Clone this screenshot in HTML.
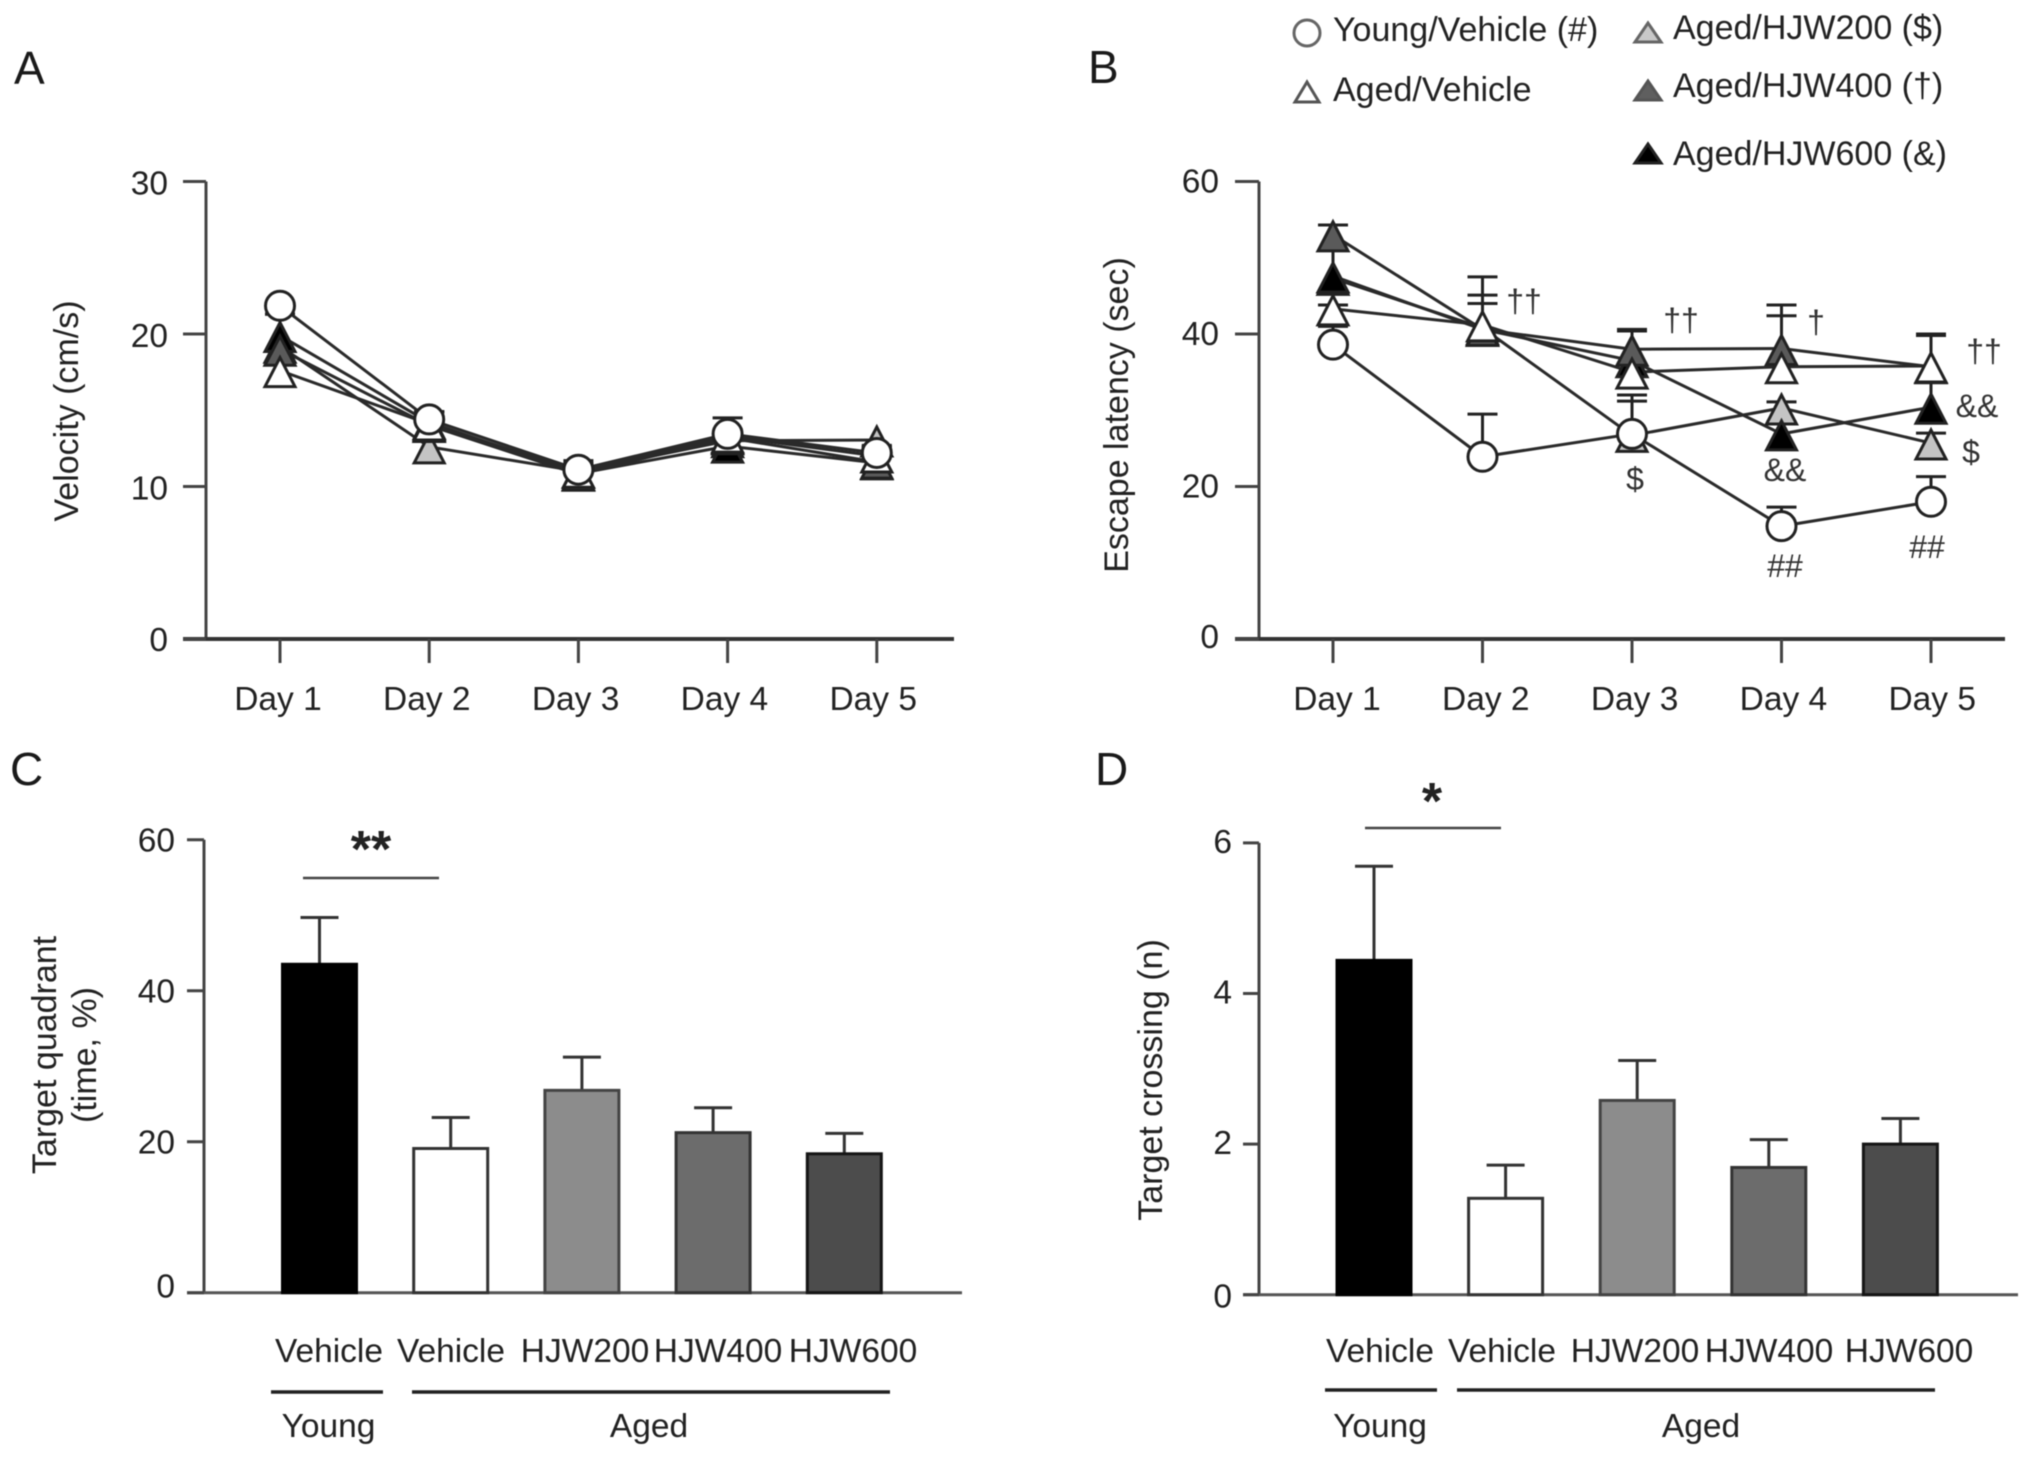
<!DOCTYPE html>
<html lang="en">
<head>
<meta charset="utf-8">
<title>Velocity, escape latency, target quadrant and target crossing</title>
<style>
html,body{margin:0;padding:0;background:#fff;}
svg{display:block;filter:blur(0.55px);}
text{font-family:"Liberation Sans",sans-serif;font-size:33.5px;fill:#222;}
.panel{font-size:46px;fill:#1a1a1a;}
.note{font-size:32px;fill:#333;text-anchor:middle;}
.mid{text-anchor:middle;}
.title{font-size:34px;}
</style>
</head>
<body>
<svg id="figure" xmlns="http://www.w3.org/2000/svg" width="2032" height="1457" viewBox="0 0 2032 1457">
  <rect x="0" y="0" width="2032" height="1457" fill="#fff"/>

  <text class="panel" x="14" y="84">A</text>
  <text class="panel" x="1088" y="83">B</text>
  <text class="panel" x="10" y="785">C</text>
  <text class="panel" x="1095" y="785">D</text>

  <text class="mid title" transform="translate(78 411) rotate(-90)">Velocity (cm/s)</text>
  <text class="mid title" transform="translate(1128 415) rotate(-90)">Escape latency (sec)</text>
  <text class="mid title" transform="translate(56 1055) rotate(-90)">Target quadrant</text>
  <text class="mid title" transform="translate(96 1055) rotate(-90)">(time, %)</text>
  <text class="mid title" transform="translate(1162 1080) rotate(-90)">Target crossing (n)</text>

  <g stroke-linejoin="miter">
    <circle cx="1307" cy="33" r="13" fill="#fff" stroke="#666" stroke-width="3"/>
    <text x="1333" y="41" style="font-size:34px">Young/Vehicle (#)</text>
    <polygon points="1307,82 1295,102 1319,102" fill="#fff" stroke="#555" stroke-width="3"/>
    <text x="1333" y="101" style="font-size:34px">Aged/Vehicle</text>
    <polygon points="1648,23 1635,42 1661,42" fill="#c8c8c8" stroke="#666" stroke-width="3"/>
    <text x="1673" y="39" style="font-size:34px">Aged/HJW200 ($)</text>
    <polygon points="1648,81 1635,100 1661,100" fill="#5f5f5f" stroke="#555" stroke-width="3"/>
    <text x="1673" y="97" style="font-size:34px">Aged/HJW400 (†)</text>
    <polygon points="1648,144 1635,163 1661,163" fill="#000" stroke="#222" stroke-width="3"/>
    <text x="1673" y="165" style="font-size:34px">Aged/HJW600 (&amp;)</text>
  </g>

  <g>
    <text class="note" x="1524" y="312">††</text>
    <text class="note" x="1681" y="331">††</text>
    <text class="note" x="1816" y="333">†</text>
    <text class="note" x="1984" y="362">††</text>
    <text class="note" x="1977" y="417">&amp;&amp;</text>
    <text class="note" x="1971" y="463">$</text>
    <text class="note" x="1785" y="481">&amp;&amp;</text>
    <text class="note" x="1635" y="490">$</text>
    <text class="note" x="1785" y="577">##</text>
    <text class="note" x="1927" y="558">##</text>
  </g>

  <g>
    <text class="mid" x="329" y="1362">Vehicle</text>
    <text class="mid" x="451" y="1362">Vehicle</text>
    <text class="mid" x="585" y="1362">HJW200</text>
    <text class="mid" x="718" y="1362">HJW400</text>
    <text class="mid" x="853" y="1362">HJW600</text>
    <line x1="271" x2="383" y1="1392" y2="1392" stroke="#222" stroke-width="3.5"/>
    <line x1="412" x2="890" y1="1392" y2="1392" stroke="#222" stroke-width="3.5"/>
    <text class="mid" x="328.5" y="1437">Young</text>
    <text class="mid" x="649" y="1437">Aged</text>
    <line x1="303" x2="439" y1="878" y2="878" stroke="#444" stroke-width="2.5"/>
    <text class="mid" x="371" y="867" style="font-size:52px;font-weight:bold">**</text>
  </g>

  <g>
    <text class="mid" x="1380" y="1362">Vehicle</text>
    <text class="mid" x="1502" y="1362">Vehicle</text>
    <text class="mid" x="1635" y="1362">HJW200</text>
    <text class="mid" x="1769" y="1362">HJW400</text>
    <text class="mid" x="1909" y="1362">HJW600</text>
    <line x1="1325" x2="1437" y1="1390" y2="1390" stroke="#222" stroke-width="3.5"/>
    <line x1="1457" x2="1935" y1="1390" y2="1390" stroke="#222" stroke-width="3.5"/>
    <text class="mid" x="1380" y="1437">Young</text>
    <text class="mid" x="1701" y="1437">Aged</text>
    <line x1="1365" x2="1501" y1="828" y2="828" stroke="#444" stroke-width="2.5"/>
    <text class="mid" x="1432" y="819" style="font-size:52px;font-weight:bold">*</text>
  </g>
</svg>

<script>
const dayLabels = ['Day 1', 'Day 2', 'Day 3', 'Day 4', 'Day 5'];

const velocityTicks = [0, 10, 20, 30];
const velocityYoung = [21.85, 14.4, 11.1, 13.45, 12.2];
const velocityAged = [17.6, 14.1, 11.0, 13.3, 12.0];
const velocityHjw200 = [19.2, 12.6, 11.0, 13.0, 13.05];
const velocityHjw400 = [19.0, 14.0, 10.8, 13.2, 11.6];
const velocityHjw600 = [19.9, 14.2, 10.85, 12.65, 11.55];
const velocityYoungErr = [22.0, 14.9, 11.7, 14.5, 12.6];
const velocityAgedErr = [21.3, 14.9, 11.5, 13.7, 12.6];
const velocityHjw200Err = [21.3, 13.2, 11.5, 13.7, 12.7];
const velocityHjw400Err = [21.3, 14.9, 11.3, 13.7, 12.1];
const velocityHjw600Err = [21.3, 14.9, 11.4, 13.3, 12.1];

const latencyTicks = [0, 20, 40, 60];
const latencyYoung = [38.6, 23.9, 26.9, 14.8, 18.0];
const latencyAged = [43.3, 41.2, 35.0, 35.7, 35.8];
const latencyHjw200 = [47.3, 40.8, 26.7, 30.3, 25.7];
const latencyHjw400 = [53.0, 40.6, 38.0, 38.1, 35.7];
const latencyHjw600 = [47.6, 40.6, 36.5, 26.9, 30.4];
const latencyYoungErr = [41.0, 29.5, 32.0, 17.3, 21.3];
const latencyAgedErr = [43.8, 47.5, 40.4, 43.8, 40.0];
const latencyHjw200Err = [51.0, 45.1, 31.2, 31.1, 27.0];
const latencyHjw400Err = [54.3, 44.0, 40.6, 42.4, 39.8];
const latencyHjw600Err = [51.0, 44.0, 40.4, 28.5, 33.8];

const quadrantTicks = [0, 20, 40, 60];
const quadrantValues = [43.5, 19.1, 26.8, 21.2, 18.4];
const quadrantErrors = [49.7, 23.2, 31.2, 24.5, 21.1];

const crossingTicks = [0, 2, 4, 6];
const crossingValues = [4.44, 1.28, 2.58, 1.69, 2.0];
const crossingErrors = [5.69, 1.72, 3.11, 2.06, 2.34];

const svgNS = 'http://www.w3.org/2000/svg';
const root = document.getElementById('figure');

function make(tag, attrs, parent, text) {
  const el = document.createElementNS(svgNS, tag);
  for (const k in attrs) el.setAttribute(k, attrs[k]);
  if (text !== undefined) el.textContent = text;
  parent.appendChild(el);
  return el;
}

const yVelocity = v => 639 - v * 15.25;
const xVelocity = i => 280 + i * 149.2;
const yLatency = v => 639 - v * 7.625;
const xLatency = i => 1333 + i * 149.5;
const yQuadrant = v => 1292.7 - v * 7.55;
const xQuadrant = i => 319.5 + i * 131.2;
const yCrossing = v => 1294.7 - v * 75.3;
const xCrossing = i => 1374 + i * 131.6;

const seriesStyles = [
  {fill: '#c4c4c4'},
  {fill: '#000'},
  {fill: '#5a5a5a'},
  {fill: '#fff'},
  {fill: '#fff', circle: true}
];

function drawAxes(g, cfg) {
  const yLine = make('line', {x1: cfg.axisX, x2: cfg.axisX, y1: cfg.y(cfg.ticks[cfg.ticks.length - 1]), y2: cfg.y(0), stroke: '#444', 'stroke-width': 3}, g);
  
  
  const xLine = make('line', {x1: cfg.tickX, x2: cfg.endX, y1: cfg.y(0), y2: cfg.y(0), stroke: cfg.xColor, 'stroke-width': cfg.xWidth}, g);
  
  
  cfg.ticks.forEach(t => {
    const tick = make('line', {x1: cfg.tickX, x2: cfg.axisX, y1: cfg.y(t), y2: cfg.y(t), stroke: '#444', 'stroke-width': 3}, g);
    
    
    const label = make('text', {x: cfg.labelX, y: cfg.y(t) + (t === 0 ? cfg.zeroDy : cfg.labelDy), 'text-anchor': 'end'}, g, String(t));
    
    
  });
}

function drawLinePanel(name, cfg, series, errors) {
  const g = make('g', {}, root);
  
  
  drawAxes(g, cfg);
  dayLabels.forEach((d, i) => {
    const tick = make('line', {x1: cfg.x(i), x2: cfg.x(i), y1: cfg.y(0), y2: cfg.y(0) + 24, stroke: '#444', 'stroke-width': 3}, g);
    
    
    const label = make('text', {x: cfg.dayLabelX + i * 148.8, y: 710, 'text-anchor': 'middle'}, g, d);
    
    
  });
  series.forEach((vals, s) => {
    vals.forEach((v, i) => {
      const top = cfg.y(errors[s][i]);
      const stem = make('line', {x1: cfg.x(i), x2: cfg.x(i), y1: top, y2: cfg.y(v), stroke: '#222', 'stroke-width': 3}, g);
      
      
      const cap = make('line', {x1: cfg.x(i) - 15, x2: cfg.x(i) + 15, y1: top, y2: top, stroke: '#222', 'stroke-width': 3}, g);
      
      
    });
  });
  series.forEach((vals, s) => {
    const pts = vals.map((v, i) => cfg.x(i) + ',' + cfg.y(v)).join(' ');
    const line = make('polyline', {points: pts, fill: 'none', stroke: '#2a2a2a', 'stroke-width': 3}, g);
    
    
  });
  series.forEach((vals, s) => {
    vals.forEach((v, i) => {
      const cx = cfg.x(i), cy = cfg.y(v);
      if (seriesStyles[s].circle) {
        const m = make('circle', {cx: cx, cy: cy, r: 14.5, fill: seriesStyles[s].fill, stroke: '#222', 'stroke-width': 3}, g);
        
        
      } else {
        const p = (cx) + ',' + (cy - 13) + ' ' + (cx - 15) + ',' + (cy + 16) + ' ' + (cx + 15) + ',' + (cy + 16);
        const m = make('polygon', {points: p, fill: seriesStyles[s].fill, stroke: '#222', 'stroke-width': 3}, g);
        
        
      }
    });
  });
}

const barFills = ['#000', '#fff', '#8c8c8c', '#6c6c6c', '#4c4c4c'];
const barStrokes = ['#000', '#333', '#444', '#333', '#151515'];

function drawBarPanel(name, cfg, values, errs) {
  const g = make('g', {}, root);
  
  
  drawAxes(g, cfg);
  values.forEach((v, i) => {
    const cx = cfg.x(i);
    const top = cfg.y(errs[i]);
    const stem = make('line', {x1: cx, x2: cx, y1: top, y2: cfg.y(v), stroke: '#333', 'stroke-width': 3}, g);
    
    
    const cap = make('line', {x1: cx - 19, x2: cx + 19, y1: top, y2: top, stroke: '#333', 'stroke-width': 3}, g);
    
    
    const bar = make('rect', {x: cx - 37, y: cfg.y(v), width: 74, height: cfg.y(0) - cfg.y(v), fill: barFills[i], stroke: barStrokes[i], 'stroke-width': 3}, g);
    
    
  });
}

drawLinePanel('velocity-chart', {
  ticks: velocityTicks, y: yVelocity, x: xVelocity, axisX: 206, tickX: 183, endX: 954,
  labelX: 168, labelDy: 13, zeroDy: 12, dayLabelX: 278, xColor: '#333', xWidth: 4
}, [velocityHjw200, velocityHjw600, velocityHjw400, velocityAged, velocityYoung],
   [velocityHjw200Err, velocityHjw600Err, velocityHjw400Err, velocityAgedErr, velocityYoungErr]);

drawLinePanel('escape-latency-chart', {
  ticks: latencyTicks, y: yLatency, x: xLatency, axisX: 1259, tickX: 1235, endX: 2005,
  labelX: 1219, labelDy: 11, zeroDy: 9, dayLabelX: 1337, xColor: '#333', xWidth: 4
}, [latencyHjw200, latencyHjw600, latencyHjw400, latencyAged, latencyYoung],
   [latencyHjw200Err, latencyHjw600Err, latencyHjw400Err, latencyAgedErr, latencyYoungErr]);

drawBarPanel('target-quadrant-chart', {
  ticks: quadrantTicks, y: yQuadrant, x: xQuadrant, axisX: 204, tickX: 187, endX: 962,
  labelX: 175, labelDy: 12, zeroDy: 5, xColor: '#555', xWidth: 3
}, quadrantValues, quadrantErrors);

drawBarPanel('target-crossing-chart', {
  ticks: crossingTicks, y: yCrossing, x: xCrossing, axisX: 1259, tickX: 1243, endX: 2018,
  labelX: 1232, labelDy: 10, zeroDy: 13, xColor: '#555', xWidth: 3
}, crossingValues, crossingErrors);
</script>
</body>
</html>
